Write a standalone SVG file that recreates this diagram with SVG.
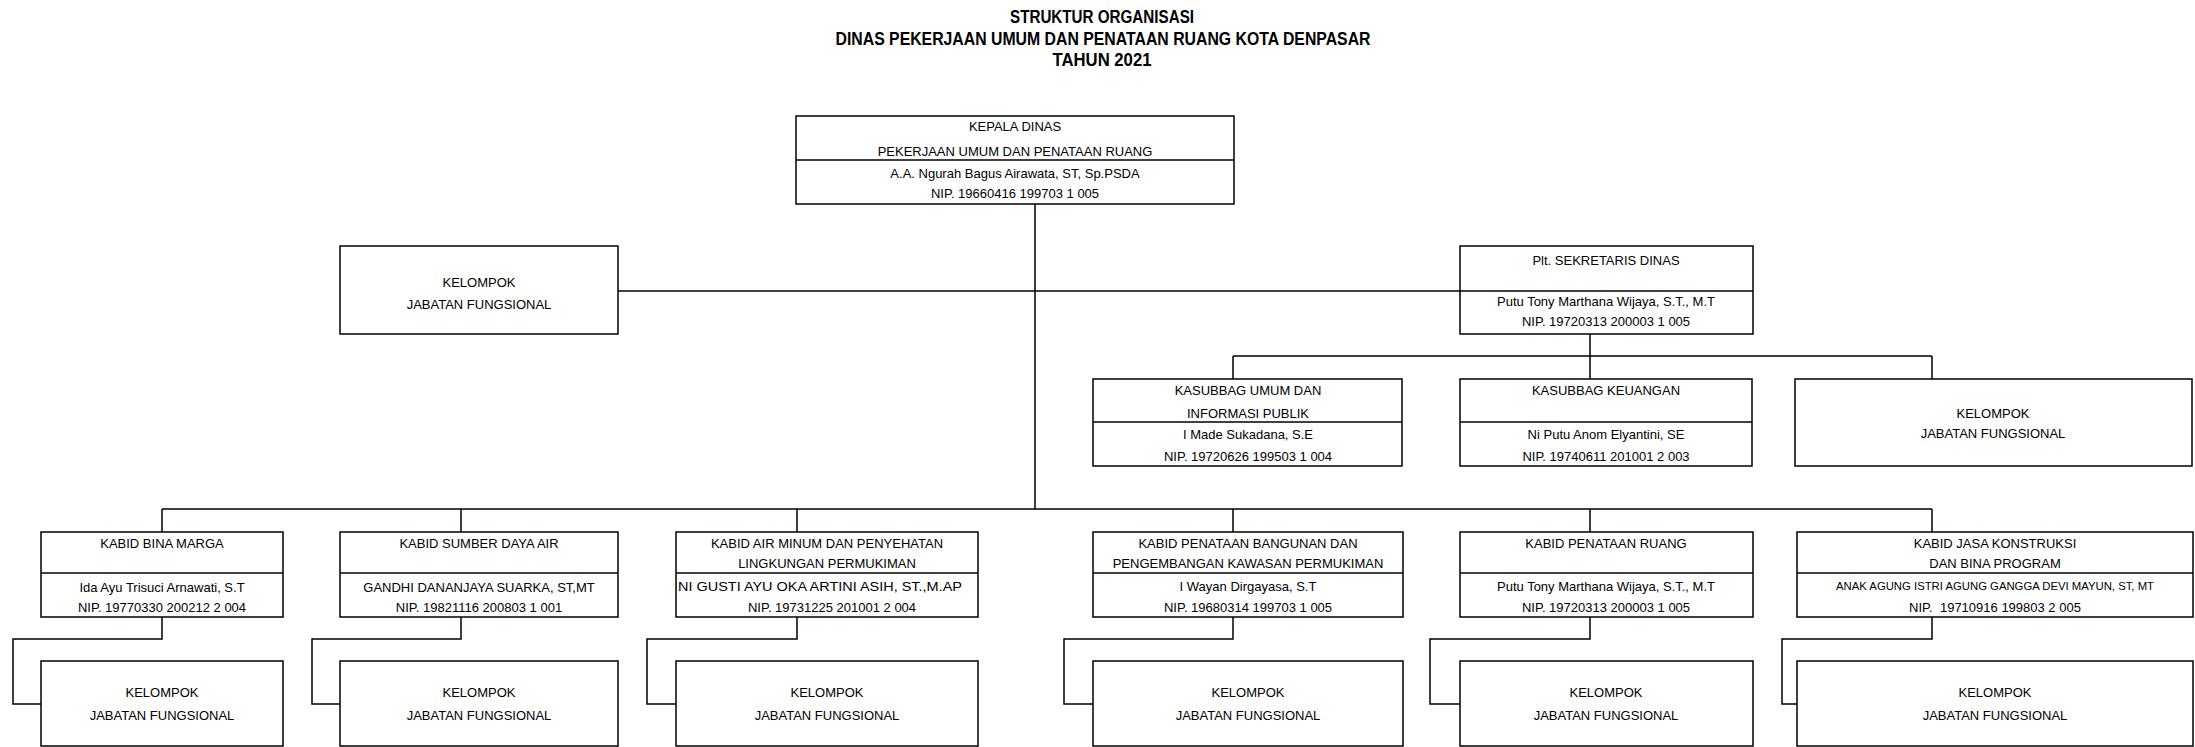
<svg xmlns="http://www.w3.org/2000/svg" width="2195" height="747" viewBox="0 0 2195 747">
<style>
.bx{fill:#fff;stroke:#000;stroke-width:1.5}
.dv{fill:none;stroke:#000;stroke-width:1.5}
.ln{fill:none;stroke:#000;stroke-width:1.5}
text{font-family:"Liberation Sans",Arial,sans-serif;font-size:13px;fill:#000;text-anchor:middle}
.ttl{font-weight:bold;font-size:17.5px;fill:#000}
.sm{font-size:10.5px}
.st{text-anchor:start}
</style>
<rect width="2195" height="747" fill="#fff"/>
<g id="title">
<text class="ttl" x="1102" y="23" textLength="184" lengthAdjust="spacingAndGlyphs">STRUKTUR ORGANISASI</text>
<text class="ttl" x="1103" y="45" textLength="535" lengthAdjust="spacingAndGlyphs">DINAS PEKERJAAN UMUM DAN PENATAAN RUANG KOTA DENPASAR</text>
<text class="ttl" x="1102" y="66" textLength="99" lengthAdjust="spacingAndGlyphs">TAHUN 2021</text>
</g>
<g id="connectors">
<path class="ln" d="M1035 204V509"/>
<path class="ln" d="M618 291H1460"/>
<path class="ln" d="M1590 334V379M1233 356H1932M1233 356V379M1932 356V379"/>
<path class="ln" d="M162 509H1932M162 509V532M461 509V532M797 509V532M1233 509V532M1590 509V532M1932 509V532"/>
<path class="ln" d="M162 617V639H13V704H41"/>
<path class="ln" d="M461 617V639H312V704H340"/>
<path class="ln" d="M797 617V639H647V704H676"/>
<path class="ln" d="M1233 617V639H1064V704H1093"/>
<path class="ln" d="M1590 617V639H1430V704H1460"/>
<path class="ln" d="M1932 617V639H1782V704H1797"/>
</g>
<g id="kepala">
<rect class="bx" x="796" y="116" width="438" height="88"/>
<path class="dv" d="M796 160H1234"/>
<text x="1015" y="131">KEPALA DINAS</text>
<text x="1015" y="156">PEKERJAAN UMUM DAN PENATAAN RUANG</text>
<text x="1015" y="178">A.A. Ngurah Bagus Airawata, ST, Sp.PSDA</text>
<text x="1015" y="198">NIP. 19660416 199703 1 005</text>
</g>
<g id="kjf-top">
<rect class="bx" x="340" y="246" width="278" height="88"/>
<text x="479" y="287">KELOMPOK</text>
<text x="479" y="309">JABATAN FUNGSIONAL</text>
</g>
<g id="sekretaris">
<rect class="bx" x="1460" y="246" width="293" height="88"/>
<path class="dv" d="M1460 291H1753"/>
<text x="1606" y="265">Plt. SEKRETARIS DINAS</text>
<text x="1606" y="306">Putu Tony Marthana Wijaya, S.T., M.T</text>
<text x="1606" y="326">NIP. 19720313 200003 1 005</text>
</g>
<g id="kasubbag-umum">
<rect class="bx" x="1093" y="379" width="309" height="87"/>
<path class="dv" d="M1093 422H1402"/>
<text x="1248" y="395">KASUBBAG UMUM DAN</text>
<text x="1248" y="418">INFORMASI PUBLIK</text>
<text x="1248" y="439">I Made Sukadana, S.E</text>
<text x="1248" y="461">NIP. 19720626 199503 1 004</text>
</g>
<g id="kasubbag-keuangan">
<rect class="bx" x="1460" y="379" width="292" height="87"/>
<path class="dv" d="M1460 422H1752"/>
<text x="1606" y="395">KASUBBAG KEUANGAN</text>
<text x="1606" y="439">Ni Putu Anom Elyantini, SE</text>
<text x="1606" y="461">NIP. 19740611 201001 2 003</text>
</g>
<g id="kjf-sekretariat">
<rect class="bx" x="1795" y="379" width="397" height="87"/>
<text x="1993" y="418">KELOMPOK</text>
<text x="1993" y="438">JABATAN FUNGSIONAL</text>
</g>
<g id="kabid-bina-marga">
<rect class="bx" x="41" y="532" width="242" height="85"/>
<path class="dv" d="M41 573H283"/>
<text x="162" y="548">KABID BINA MARGA</text>
<text x="162" y="592">Ida Ayu Trisuci Arnawati, S.T</text>
<text x="162" y="612">NIP. 19770330 200212 2 004</text>
</g>
<g id="kabid-sda">
<rect class="bx" x="340" y="532" width="278" height="85"/>
<path class="dv" d="M340 573H618"/>
<text x="479" y="548">KABID SUMBER DAYA AIR</text>
<text x="479" y="592">GANDHI DANANJAYA SUARKA, ST,MT</text>
<text x="479" y="612">NIP. 19821116 200803 1 001</text>
</g>
<g id="kabid-air-minum">
<rect class="bx" x="676" y="532" width="302" height="85"/>
<path class="dv" d="M676 573H978"/>
<text x="827" y="548">KABID AIR MINUM DAN PENYEHATAN</text>
<text x="827" y="568">LINGKUNGAN PERMUKIMAN</text>
<text class="st" x="678" y="591" textLength="284" lengthAdjust="spacingAndGlyphs">NI GUSTI AYU OKA ARTINI ASIH, ST.,M.AP</text>
<text x="832" y="612">NIP. 19731225 201001 2 004</text>
</g>
<g id="kabid-penataan-bangunan">
<rect class="bx" x="1093" y="532" width="310" height="85"/>
<path class="dv" d="M1093 573H1403"/>
<text x="1248" y="548">KABID PENATAAN BANGUNAN DAN</text>
<text x="1248" y="568">PENGEMBANGAN KAWASAN PERMUKIMAN</text>
<text x="1248" y="591">I Wayan Dirgayasa, S.T</text>
<text x="1248" y="612">NIP. 19680314 199703 1 005</text>
</g>
<g id="kabid-penataan-ruang">
<rect class="bx" x="1460" y="532" width="293" height="85"/>
<path class="dv" d="M1460 573H1753"/>
<text x="1606" y="548">KABID PENATAAN RUANG</text>
<text x="1606" y="591">Putu Tony Marthana Wijaya, S.T., M.T</text>
<text x="1606" y="612">NIP. 19720313 200003 1 005</text>
</g>
<g id="kabid-jasa-konstruksi">
<rect class="bx" x="1797" y="532" width="396" height="85"/>
<path class="dv" d="M1797 573H2193"/>
<text x="1995" y="548">KABID JASA KONSTRUKSI</text>
<text x="1995" y="568">DAN BINA PROGRAM</text>
<text class="sm" x="1995" y="590" textLength="318" lengthAdjust="spacingAndGlyphs">ANAK AGUNG ISTRI AGUNG GANGGA DEVI MAYUN, ST, MT</text>
<text x="1995" y="612" xml:space="preserve">NIP.  19710916 199803 2 005</text>
</g>
<g id="kjf-1"><rect class="bx" x="41" y="661" width="242" height="85"/><text x="162" y="697">KELOMPOK</text><text x="162" y="720">JABATAN FUNGSIONAL</text></g>
<g id="kjf-2"><rect class="bx" x="340" y="661" width="278" height="85"/><text x="479" y="697">KELOMPOK</text><text x="479" y="720">JABATAN FUNGSIONAL</text></g>
<g id="kjf-3"><rect class="bx" x="676" y="661" width="302" height="85"/><text x="827" y="697">KELOMPOK</text><text x="827" y="720">JABATAN FUNGSIONAL</text></g>
<g id="kjf-4"><rect class="bx" x="1093" y="661" width="310" height="85"/><text x="1248" y="697">KELOMPOK</text><text x="1248" y="720">JABATAN FUNGSIONAL</text></g>
<g id="kjf-5"><rect class="bx" x="1460" y="661" width="293" height="85"/><text x="1606" y="697">KELOMPOK</text><text x="1606" y="720">JABATAN FUNGSIONAL</text></g>
<g id="kjf-6"><rect class="bx" x="1797" y="661" width="396" height="85"/><text x="1995" y="697">KELOMPOK</text><text x="1995" y="720">JABATAN FUNGSIONAL</text></g>
</svg>
